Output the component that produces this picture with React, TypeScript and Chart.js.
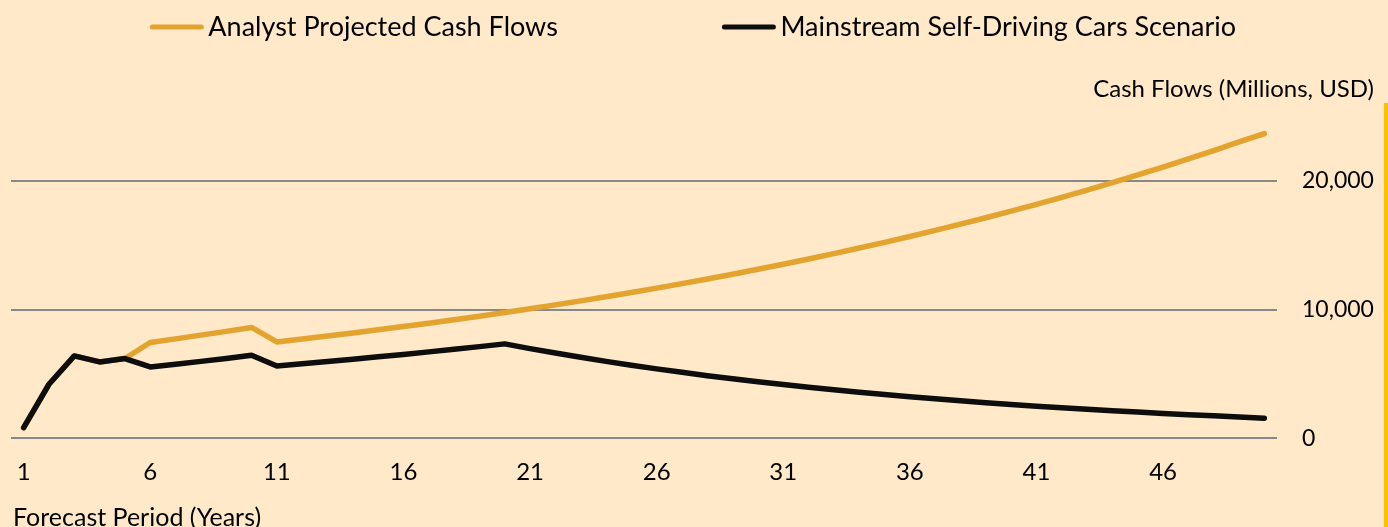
import React, { useEffect, useRef } from 'react';
import { Chart, registerables } from 'chart.js';

Chart.register(...registerables);

const years = [
  '1', '2', '3', '4', '5', '6', '7', '8', '9', '10',
  '11', '12', '13', '14', '15', '16', '17', '18', '19', '20',
  '21', '22', '23', '24', '25', '26', '27', '28', '29', '30',
  '31', '32', '33', '34', '35', '36', '37', '38', '39', '40',
  '41', '42', '43', '44', '45', '46', '47', '48', '49', '50',
];

const xTickLabels = ['1', '6', '11', '16', '21', '26', '31', '36', '41', '46'];
const yTickValues = [0, 10000, 20000];

const analystCashFlows = [
  833, 4202, 6405, 5938, 6202, 7447, 7730, 8020, 8310, 8615,
  7494, 7719, 7950, 8189, 8434, 8687, 8948, 9216, 9493, 9778,
  10071, 10373, 10684, 11005, 11335, 11675, 12025, 12386, 12758, 13140,
  13535, 13941, 14359, 14790, 15233, 15690, 16161, 16646, 17145, 17660,
  18190, 18735, 19297, 19876, 20473, 21087, 21719, 22371, 23042, 23690,
];

const selfDrivingCashFlows = [
  833, 4202, 6405, 5938, 6202, 5549, 5760, 5980, 6210, 6459,
  5626, 5795, 5969, 6148, 6332, 6522, 6718, 6919, 7127, 7341,
  6974, 6625, 6294, 5979, 5680, 5396, 5127, 4870, 4627, 4395,
  4176, 3967, 3769, 3580, 3401, 3231, 3070, 2916, 2770, 2632,
  2500, 2375, 2257, 2144, 2037, 1935, 1838, 1746, 1659, 1560,
];

const seriesNames = ['Analyst Projected Cash Flows', 'Mainstream Self-Driving Cars Scenario'];
const seriesColors = ['#E2A32F', '#0D0D0D'];
const yAxisTitle = 'Cash Flows (Millions, USD)';
const xAxisTitle = 'Forecast Period (Years)';

const FONT = 'Lato';
const W = 1388;
const H = 527;

const textPlugin = {
  id: 'customTexts',
  afterDraw(chart: any) {
    const ctx = chart.ctx as CanvasRenderingContext2D;
    ctx.save();
    // legend
    ctx.font = `27px ${FONT}`;
    ctx.textBaseline = 'alphabetic';
    ctx.textAlign = 'left';
    const sample = 54;
    const gap = 4.5;
    const itemGap = 164;
    const widths = seriesNames.map((n) => sample + gap + ctx.measureText(n).width);
    const total = widths.reduce((a, b) => a + b, 0) + itemGap * (widths.length - 1);
    let x = (chart.width - total) / 2 - 1;
    seriesNames.forEach((name, i) => {
      ctx.strokeStyle = seriesColors[i];
      ctx.lineWidth = 5;
      ctx.lineCap = 'round';
      ctx.beginPath();
      ctx.moveTo(x + 2.5, 27);
      ctx.lineTo(x + sample - 2.5, 27);
      ctx.stroke();
      ctx.fillStyle = '#000000';
      ctx.fillText(name, x + sample + gap, 36);
      x += widths[i] + itemGap;
    });
    // axis titles
    ctx.fillStyle = '#000000';
    ctx.font = `24px ${FONT}`;
    ctx.textAlign = 'right';
    ctx.fillText(yAxisTitle, 1374, 97);
    ctx.font = `25px ${FONT}`;
    ctx.textAlign = 'left';
    ctx.fillText(xAxisTitle, 13, 526);
    ctx.restore();
  },
};

export default function App() {
  const canvasRef = useRef<HTMLCanvasElement | null>(null);

  useEffect(() => {
    document.body.style.margin = '0';
    document.body.style.background = '#FFE9C8';
    const canvas = canvasRef.current;
    if (!canvas) return;
    const chart = new Chart(canvas, {
      type: 'line',
      data: {
        labels: years,
        datasets: [
          {
            label: seriesNames[0],
            data: analystCashFlows,
            borderColor: seriesColors[0],
            backgroundColor: seriesColors[0],
            borderWidth: 5.5,
            borderCapStyle: 'round',
            borderJoinStyle: 'round',
            pointRadius: 0,
            tension: 0,
            order: 1,
          },
          {
            label: seriesNames[1],
            data: selfDrivingCashFlows,
            borderColor: seriesColors[1],
            backgroundColor: seriesColors[1],
            borderWidth: 5.5,
            borderCapStyle: 'round',
            borderJoinStyle: 'round',
            pointRadius: 0,
            tension: 0,
            order: 0,
          },
        ],
      },
      options: {
        responsive: false,
        devicePixelRatio: 1,
        animation: false,
        layout: { padding: { left: 11, right: 0, top: 116.7, bottom: 0 } },
        plugins: {
          legend: { display: false },
          tooltip: { enabled: false },
          title: { display: false },
        },
        scales: {
          x: {
            type: 'category',
            offset: true,
            grid: { display: false, drawTicks: false },
            border: { display: false },
            ticks: {
              autoSkip: false,
              maxRotation: 0,
              minRotation: 0,
              padding: 20,
              color: '#000000',
              font: { family: FONT, size: 24 },
              callback: (_v: any, i: number) => (xTickLabels.includes(years[i]) ? years[i] : ''),
            },
            afterFit: (scale: any) => {
              scale.height = H - 438.3;
              scale.paddingLeft = 0;
              scale.paddingRight = 0;
            },
          },
          y: {
            type: 'linear',
            position: 'right',
            min: 0,
            max: 25000,
            grid: { color: '#888888', lineWidth: 2, drawTicks: false },
            border: { display: false },
            ticks: {
              stepSize: 10000,
              padding: 25,
              color: '#000000',
              font: { family: FONT, size: 23 },
              callback: (v: any) => Number(v).toLocaleString('en-US'),
            },
            afterBuildTicks: (scale: any) => {
              scale.ticks = yTickValues.map((v) => ({ value: v }));
            },
            afterFit: (scale: any) => {
              scale.width = 111;
            },
          },
        },
      },
      plugins: [textPlugin],
    });
    return () => chart.destroy();
  }, []);

  return (
    <div style={{ position: 'relative', width: W, height: H, background: '#FFE9C8', overflow: 'hidden' }}>
      <canvas ref={canvasRef} width={W} height={H} style={{ display: 'block' }} />
      <div style={{ position: 'absolute', left: 1384, top: 103, width: 4, height: H - 103, background: '#FFC000' }} />
    </div>
  );
}
